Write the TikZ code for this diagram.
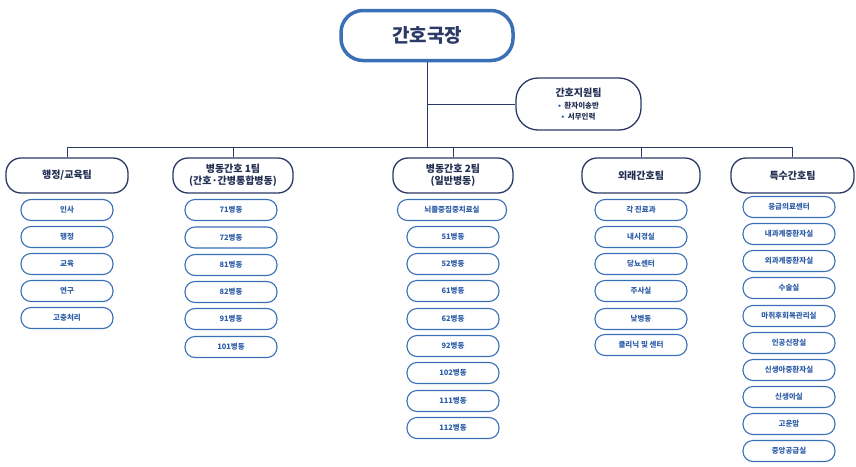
\documentclass[tikz,border=0pt]{standalone}
\usepackage{fontspec}
\setmainfont{Noto Sans CJK KR}
\usetikzlibrary{positioning}
\definecolor{navy}{HTML}{2B3A67}
\definecolor{sub}{HTML}{3A70B8}
\definecolor{subtxt}{HTML}{2F5FA8}
\definecolor{topb}{HTML}{3B6FB6}
\begin{document}
\begin{tikzpicture}[x=1pt,y=-1pt,
 team/.style={draw=navy,line width=1.3pt,rounded corners=15pt,minimum width=120pt,minimum height=35pt,align=center,font=\fontsize{10}{12}\selectfont\bfseries,text=navy!80!black,fill=white},
 subbox/.style={draw=sub,line width=1.1pt,rounded corners=10pt,minimum width=92pt,minimum height=21pt,font=\fontsize{7.5}{8}\selectfont\bfseries,text=subtxt,fill=white,inner sep=1pt},
 conn/.style={draw=navy,line width=1pt}]
\useasboundingbox (0,0) rectangle (856,466);
\node[draw=topb,line width=3.5pt,rounded corners=22pt,minimum width=172pt,minimum height=50pt,font=\fontsize{19}{22}\selectfont\bfseries,text=navy,fill=white] (top) at (427,35.5) {간호국장};
\node[team,minimum width=125pt,minimum height=52pt,rounded corners=22pt,font=\fontsize{10}{11}\selectfont\bfseries,inner sep=1pt] (sup) at (578.5,104) {간호지원팀\\[1pt]{\fontsize{7.5}{9}\selectfont\textcolor{subtxt}{•}\ \ 환자이송반}\\{\fontsize{7.5}{9}\selectfont\textcolor{subtxt}{•}\ \ 서무인력}};
\coordinate (j) at (427,104);
\coordinate (h) at (427,147);
\node[team,minimum width=122pt] (t1) at (67,175.5) {행정/교육팀};
\node[team] (t2) at (233,175.5) {병동간호 1팀\\(간호·간병통합병동)};
\node[team] (t3) at (453,175.5) {병동간호 2팀\\(일반병동)};
\node[team,minimum width=118pt] (t4) at (641,175.5) {외래간호팀};
\node[team,minimum width=123pt] (t5) at (792.5,175.5) {특수간호팀};
\draw[conn] (top.south) -- (h);
\draw[conn] (j) -- (sup.west);
\draw[conn] (t1.north) -- (t1.north|-h) -- (t5.north|-h) -- (t5.north);
\foreach \t in {t2,t3,t4} \draw[conn] (\t.north) -- (\t.north|-h);
\foreach \n/\y/\s [count=\i] in {210/인사,237/행정,264/교육,291/연구,318/고충처리}
  \node[subbox] (a\i) at (67,\n) {\y};
\foreach \n/\y [count=\i] in {210/71병동,237.5/72병동,265/81병동,292/82병동,319/91병동,347/101병동}
  \node[subbox] (b\i) at (231,\n) {\y};
\node[subbox,minimum width=109pt] (c0) at (452,210) {뇌졸중집중치료실};
\foreach \n/\y [count=\i] in {237/51병동,264/52병동,291/61병동,319/62병동,346/92병동,373/102병동,401/111병동,428/112병동}
  \node[subbox] (c\i) at (453,\n) {\y};
\foreach \n/\y [count=\i] in {210/각 진료과,237/내시경실,264/당뇨센터,291/주사실,319/낮병동,345/클리닉 및 센터}
  \node[subbox] (d\i) at (641,\n) {\y};
\foreach \n/\y [count=\i] in {207/응급의료센터,234/내과계중환자실,261/외과계중환자실,288/수술실,316/마취후회복관리실,343/인공신장실,370/신생아중환자실,397/신생아실,424/고운맘,451/중앙공급실}
  \node[subbox] (e\i) at (789,\n) {\y};
\end{tikzpicture}
\end{document}
